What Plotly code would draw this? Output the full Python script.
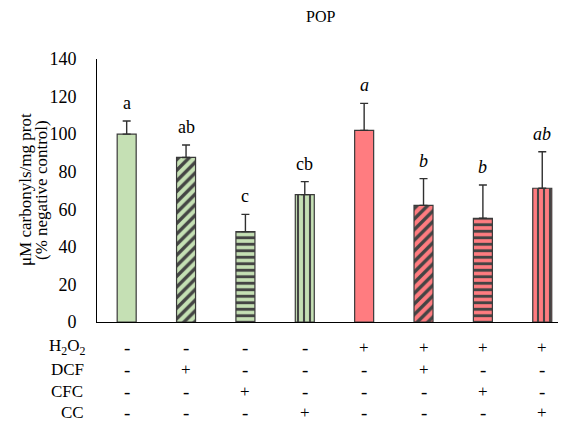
import plotly.graph_objects as go

categories = ["C", "DCF", "CFC", "CC", "H2O2", "H2O2+DCF", "H2O2+CFC", "H2O2+CC"]
values = [100, 87.6, 48.1, 67.8, 102, 62.1, 55.2, 71.2]
errors = [7, 6.6, 9.2, 6.9, 14.4, 14.2, 17.7, 19.4]
letters = ["a", "ab", "c", "cb", "<i>a</i>", "<i>b</i>", "<i>b</i>", "<i>ab</i>"]
row_labels = ["H<sub>2</sub>O<sub>2</sub>", "DCF", "CFC", "CC"]
row_signs = [
    ["-", "-", "-", "-", "+", "+", "+", "+"],
    ["-", "+", "-", "-", "-", "+", "-", "-"],
    ["-", "-", "+", "-", "-", "-", "+", "-"],
    ["-", "-", "-", "+", "-", "-", "-", "+"],
]
y_ticks = [0, 20, 40, 60, 80, 100, 120, 140]

GREEN = "#c5e0b4"
RED = "#ff7c80"
bg = [GREEN] * 4 + [RED] * 4
shapes = ["", "/", "-", "|"] * 2
psize = [8, 7.5, 6.5, 6] * 2
psolid = [0.3, 0.45, 0.45, 0.35] * 2
FONT = "Liberation Serif"

x = list(range(len(categories)))

# page layout (the page has an 8px body margin)
OFF = 8
PLOT_L, PLOT_R, PLOT_T, PLOT_B = 97, 566, 59, 322  # page pixels
W, H = 566 - OFF, 423 - OFF


def px2x(px):
    return (px - PLOT_L) / (PLOT_R - PLOT_L)


def py2y(py):
    return (PLOT_B - py) / (PLOT_B - PLOT_T)


fig = go.Figure()
fig.add_trace(go.Bar(
    x=x, y=values, width=0.32,
    marker=dict(
        color=bg,
        line=dict(color="#3a3a3a", width=1.2),
        pattern=dict(shape=shapes, fgcolor=["black"] * 8, fgopacity=1,
                     fillmode="overlay", size=psize, solidity=psolid),
    ),
    error_y=dict(type="data", array=errors, arrayminus=[0] * 8, symmetric=False,
                 color="#303030", thickness=1.4, width=4),
    showlegend=False,
))

ann = []
for i, (v, e, l) in enumerate(zip(values, errors, letters)):
    ann.append(dict(x=i, y=v + e, xref="x", yref="y", text=l, showarrow=False,
                    yanchor="bottom", yshift=6,
                    font=dict(family=FONT, size=18, color="black")))

row_py = [347, 369, 391, 412]
row_px = [67, 67, 67, 72]
for r, (lab, signs) in enumerate(zip(row_labels, row_signs)):
    yp = py2y(row_py[r])
    ann.append(dict(x=px2x(row_px[r]), y=yp, xref="paper", yref="paper", text=lab,
                    showarrow=False, xanchor="center", yanchor="middle",
                    font=dict(family=FONT, size=17, color="black")))
    for i, s in enumerate(signs):
        ann.append(dict(x=i, y=yp, xref="x", yref="paper", text=s, showarrow=False,
                        xanchor="center", yanchor="middle",
                        font=dict(family=FONT, size=17 if s == "+" else 19,
                                  color="black")))

ann.append(dict(x=px2x(320), y=py2y(17), xref="paper", yref="paper", text="POP",
                showarrow=False, xanchor="center", yanchor="middle",
                font=dict(family=FONT, size=16, color="black")))
for txt, px in [("μM carbonyls/mg prot", 25), ("(% negative control)", 41)]:
    ann.append(dict(x=px2x(px), y=py2y(190), xref="paper", yref="paper",
                    text=txt, textangle=-90,
                    showarrow=False, xanchor="center", yanchor="middle",
                    font=dict(family=FONT, size=17, color="black")))

fig.update_layout(
    width=W, height=H,
    margin=dict(l=PLOT_L - OFF, r=OFF + W - PLOT_R, t=PLOT_T - OFF, b=OFF + H - PLOT_B),
    paper_bgcolor="white", plot_bgcolor="white",
    annotations=ann,
    xaxis=dict(range=[-0.5, 7.4], showticklabels=False, ticks="", showgrid=False,
               zeroline=False, showline=True, linecolor="black", linewidth=1),
    yaxis=dict(range=[0, 140], tickvals=y_ticks, ticks="", showgrid=False,
               zeroline=False, showline=True, linecolor="black", linewidth=1,
               ticklabelstandoff=16,
               tickfont=dict(family=FONT, size=18, color="black")),
)

fig.write_html("out.html")
